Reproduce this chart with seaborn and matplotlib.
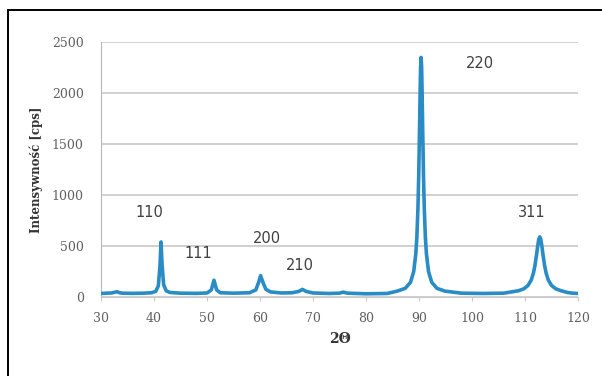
import matplotlib
matplotlib.use("Agg")
import matplotlib.pyplot as plt
import seaborn as sns
import pandas as pd
from matplotlib.patches import Rectangle

# 2theta i intensywnosc [cps]
two_theta = [30, 31, 32, 33, 33.5, 34, 36, 38, 39.5, 40.3, 40.8, 41.1, 41.3, 41.5, 41.8, 42.3, 43,
             45, 48, 50, 50.8, 51.3, 51.8, 52.5, 55, 58, 59.2, 59.7, 60.1, 60.5, 61.1, 62,
             64, 66, 67.3, 68, 68.7, 70, 73, 75, 75.7, 76.5, 80, 84,
             85.9, 87.4, 88.4, 89.0, 89.4, 89.6, 89.8, 89.95, 90.1, 90.2, 90.3, 90.4,
             90.5, 90.6, 90.7, 90.85, 91.0, 91.2, 91.4, 91.8, 92.4, 93.4, 94.9,
             98, 102, 106, 108.8, 109.8, 110.6, 111.2, 111.6, 111.9, 112.2, 112.4, 112.6, 112.8,
             113.0, 113.2, 113.4, 113.7, 114.0, 114.4, 115.0, 115.8, 116.8, 118, 119, 120]
intensity = [35, 38, 40, 52, 42, 38, 36, 38, 42, 55, 110, 300, 540, 320, 120, 60, 45,
             38, 36, 40, 70, 165, 70, 42, 38, 42, 70, 140, 210, 150, 75, 50,
             40, 42, 55, 75, 55, 40, 35, 38, 48, 38, 32, 35,
             58, 85, 145, 250, 425, 590, 870, 1195, 1640, 1970, 2250, 2350,
             2250, 1970, 1640, 1195, 870, 590, 425, 250, 145, 85, 58,
             38, 35, 38, 62, 81, 115, 168, 235, 312, 419, 498, 564, 590,
             564, 498, 419, 312, 235, 168, 115, 81, 62, 45, 38, 35]

etykiety = ["110", "111", "200", "210", "220", "311"]
etyk_x = [39.1, 48.3, 61.3, 67.5, 101.5, 111.3]
etyk_y = [830, 430, 570, 310, 2290, 830]

df = pd.DataFrame({"2theta": two_theta, "I": intensity})

sns.set_style("white")
fig = plt.figure(figsize=(6.02, 3.76), dpi=100)
ax = fig.add_axes([0.168, 0.210, 0.792, 0.678])

sns.lineplot(data=df, x="2theta", y="I", color="#2a8cc4", linewidth=2.6, ax=ax, zorder=3)

ax.set_xlim(30, 120)
ax.set_ylim(0, 2500)
ax.set_xticks(range(30, 121, 10))
ax.set_yticks(range(0, 2501, 500))
ax.yaxis.grid(True, color="#c8c8c8", linewidth=1.2)
ax.xaxis.grid(False)
for s in ["top", "right"]:
    ax.spines[s].set_visible(False)
ax.spines["left"].set_color("#b8b8b8")
ax.spines["bottom"].set_color("#c8c8c8")
ax.tick_params(axis="x", bottom=True, length=3, color="#c8c8c8", labelsize=9, labelcolor="#606060", pad=8)
ax.tick_params(axis="y", left=False, labelsize=9, labelcolor="#606060", pad=9)
for lab in ax.get_xticklabels() + ax.get_yticklabels():
    lab.set_family("DejaVu Serif")

ax.set_xlabel("2Θ", fontsize=10, fontweight="bold", family="DejaVu Serif", color="#333333", labelpad=5)
ax.set_ylabel("Intensywność [cps]", fontsize=8.5, fontweight="bold", family="DejaVu Serif", color="#333333", labelpad=6)

for t, x, y in zip(etykiety, etyk_x, etyk_y):
    ax.text(x, y, t, ha="center", va="center", fontsize=10.5, color="#404040")

# ramka obrazka (ucieta z prawej i z dolu)
fig.add_artist(Rectangle((0.013, -0.1), 1.2, 1.073, transform=fig.transFigure,
                         fill=False, edgecolor="black", linewidth=1.4))

plt.savefig("out.png", dpi=100)
